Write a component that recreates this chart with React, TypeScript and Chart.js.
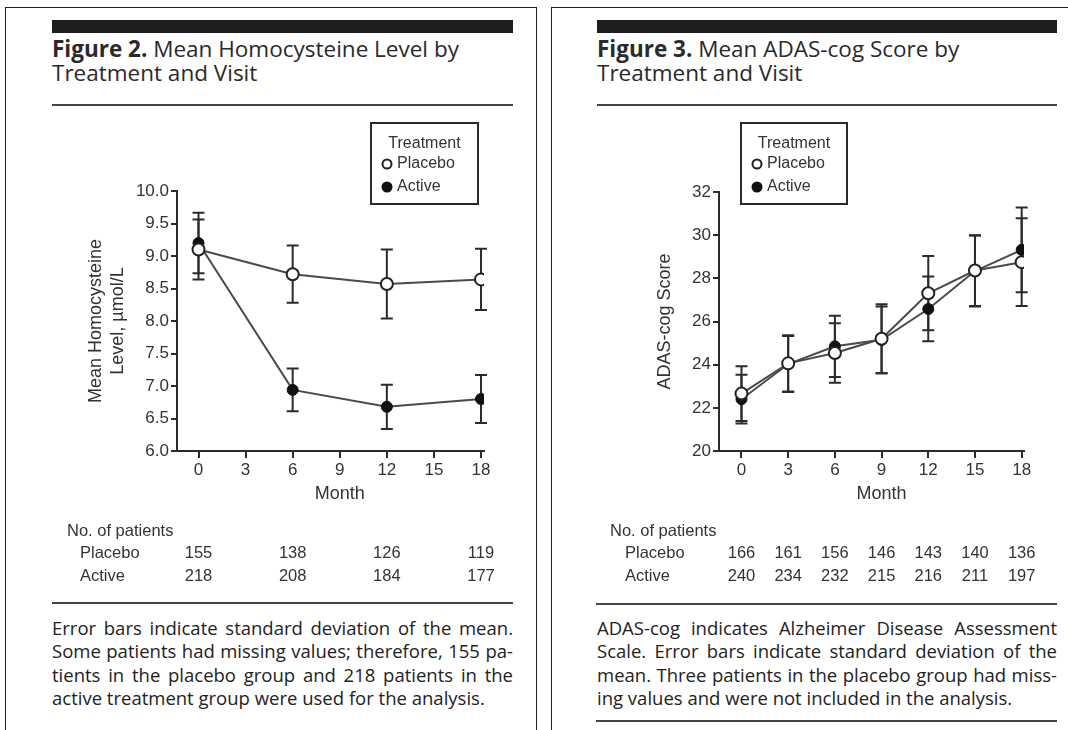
import React, { useEffect, useRef } from "react";
import { Chart, registerables } from "chart.js";
Chart.register(...registerables);

const FONT = '"Liberation Sans", Arial, sans-serif';
const PROSE = '"Open Sans", "Noto Sans", sans-serif';
const TEXT = "#333";
const AXIS = "#2b2b2b";
const LINE = "#4a4a4a";

// ---------- Figure 2: homocysteine ----------
const hcyMonths = [0, 6, 12, 18];
const hcyXTicks = [0, 3, 6, 9, 12, 15, 18];
const hcyYTicks = [6.0, 6.5, 7.0, 7.5, 8.0, 8.5, 9.0, 9.5, 10.0];
const hcyPlacebo = [9.1, 8.72, 8.57, 8.64];
const hcyPlaceboSD = [0.46, 0.44, 0.53, 0.47];
const hcyActive = [9.2, 6.94, 6.68, 6.8];
const hcyActiveSD = [0.465, 0.33, 0.34, 0.37];
const hcyPatientsPlacebo = [155, 138, 126, 119];
const hcyPatientsActive = [218, 208, 184, 177];

// ---------- Figure 3: ADAS-cog ----------
const adasMonths = [0, 3, 6, 9, 12, 15, 18];
const adasXTicks = [0, 3, 6, 9, 12, 15, 18];
const adasYTicks = [20, 22, 24, 26, 28, 30, 32];
const adasPlacebo = [22.66, 24.06, 24.54, 25.2, 27.31, 28.36, 28.75];
const adasPlaceboSD = [1.27, 1.3, 1.38, 1.6, 1.72, 1.64, 2.03];
const adasActive = [22.4, 24.03, 24.85, 25.15, 26.58, 28.34, 29.32];
const adasActiveSD = [1.13, 1.3, 1.42, 1.55, 1.5, 1.64, 1.96];
const adasPatientsPlacebo = [166, 161, 156, 146, 143, 140, 136];
const adasPatientsActive = [240, 234, 232, 215, 216, 211, 197];

const errorBarsPlugin = {
  id: "errorBars",
  beforeDatasetsDraw(chart: any, _args: any, opts: any) {
    const { ctx } = chart;
    const xs = chart.scales.x;
    const ys = chart.scales.y;
    ctx.save();
    ctx.strokeStyle = AXIS;
    ctx.lineWidth = 2;
    chart.data.datasets.forEach((ds: any, i: number) => {
      const sd = opts.sd[i];
      ds.data.forEach((p: any, j: number) => {
        const px = xs.getPixelForValue(p.x);
        const top = ys.getPixelForValue(p.y + sd[j]);
        const bot = ys.getPixelForValue(p.y - sd[j]);
        ctx.beginPath();
        ctx.moveTo(px, top);
        ctx.lineTo(px, bot);
        ctx.moveTo(px - 6, top);
        ctx.lineTo(px + 6, top);
        ctx.moveTo(px - 6, bot);
        ctx.lineTo(px + 6, bot);
        ctx.stroke();
      });
    });
    ctx.restore();
  },
};

const boxLegendPlugin = {
  id: "boxLegend",
  afterDraw(chart: any, _args: any, opts: any) {
    const { ctx } = chart;
    const { x, y, w, h } = opts.box;
    ctx.save();
    ctx.strokeStyle = AXIS;
    ctx.lineWidth = 2;
    ctx.strokeRect(x, y, w, h);
    ctx.font = `16px ${FONT}`;
    ctx.fillStyle = TEXT;
    ctx.textBaseline = "middle";
    ctx.textAlign = "center";
    ctx.fillText(opts.title, x + w / 2, y + 21);
    chart.data.datasets.forEach((ds: any, i: number) => {
      const cy = y + 41 + i * 23;
      ctx.beginPath();
      ctx.arc(x + 16, cy, 4.5, 0, Math.PI * 2);
      ctx.fillStyle = ds.pointBackgroundColor;
      ctx.fill();
      ctx.lineWidth = 2;
      ctx.strokeStyle = ds.pointBorderColor;
      ctx.stroke();
      ctx.fillStyle = TEXT;
      ctx.textAlign = "left";
      ctx.fillText(ds.label, x + 26, cy);
    });
    ctx.restore();
  },
};

const tablePlugin = {
  id: "patientTable",
  afterDraw(chart: any, _args: any, opts: any) {
    const { ctx } = chart;
    const xs = chart.scales.x;
    ctx.save();
    ctx.fillStyle = TEXT;
    ctx.font = `18px ${FONT}`;
    ctx.textAlign = "center";
    ctx.textBaseline = "middle";
    const mid = (xs.getPixelForValue(0) + xs.getPixelForValue(18)) / 2;
    ctx.fillText("Month", mid, opts.monthY);
    ctx.font = `16.5px ${FONT}`;
    ctx.textBaseline = "alphabetic";
    ctx.textAlign = "left";
    ctx.fillText("No. of patients", opts.headX, opts.rowY[0]);
    opts.rows.forEach((row: any, r: number) => {
      ctx.textAlign = "left";
      ctx.fillText(row.label, opts.labelX, opts.rowY[r + 1]);
      ctx.textAlign = "center";
      row.values.forEach((v: number, j: number) => {
        ctx.fillText(String(v), xs.getPixelForValue(opts.months[j]), opts.rowY[r + 1]);
      });
    });
    ctx.restore();
  },
};

function buildConfig(p: any): any {
  const toPts = (vals: number[]) => vals.map((v, i) => ({ x: p.months[i], y: v }));
  return {
    type: "line",
    data: {
      datasets: [
        {
          label: "Placebo",
          data: toPts(p.placebo),
          borderColor: LINE,
          borderWidth: 2,
          pointRadius: 6,
          pointBackgroundColor: "#ffffff",
          pointBorderColor: "#222",
          pointBorderWidth: 2,
          tension: 0,
        },
        {
          label: "Active",
          data: toPts(p.active),
          borderColor: LINE,
          borderWidth: 2,
          pointRadius: 5.5,
          pointBackgroundColor: "#111",
          pointBorderColor: "#111",
          pointBorderWidth: 1,
          tension: 0,
        },
      ],
    },
    options: {
      animation: false,
      responsive: false,
      devicePixelRatio: 1,
      events: [],
      layout: { padding: { top: p.padTop, right: p.padRight, left: 0, bottom: 0 } },
      plugins: {
        legend: { display: false },
        tooltip: { enabled: false },
        errorBars: { sd: [p.placeboSD, p.activeSD] },
        boxLegend: { box: p.legendBox, title: "Treatment" },
        patientTable: {
          months: p.months,
          monthY: 382,
          headX: p.headX,
          labelX: p.labelX,
          rowY: [424, 446, 469],
          rows: [
            { label: "Placebo", values: p.patientsPlacebo },
            { label: "Active", values: p.patientsActive },
          ],
        },
      },
      scales: {
        x: {
          type: "linear",
          min: p.xMin,
          max: p.xMax,
          afterBuildTicks: (s: any) => {
            s.ticks = p.xTicks.map((v: number) => ({ value: v }));
          },
          afterFit: (s: any) => {
            s.height = p.xHeight;
          },
          grid: { display: true, drawOnChartArea: false, drawTicks: true, tickLength: 7, color: AXIS, lineWidth: 2 },
          border: { display: true, color: AXIS, width: 2 },
          ticks: { font: { size: 17, family: FONT }, color: TEXT, padding: 2, maxRotation: 0, autoSkip: false },
        },
        y: {
          type: "linear",
          min: p.yMin,
          max: p.yMax,
          afterBuildTicks: (s: any) => {
            s.ticks = p.yTicks.map((v: number) => ({ value: v }));
          },
          afterFit: (s: any) => {
            s.width = p.yWidth;
          },
          grid: { display: true, drawOnChartArea: false, drawTicks: true, tickLength: 6, color: AXIS, lineWidth: 2 },
          border: { display: true, color: AXIS, width: 2 },
          ticks: {
            font: { size: 17, family: FONT },
            color: TEXT,
            padding: 2,
            autoSkip: false,
            callback: (v: any) => Number(v).toFixed(p.yDecimals),
          },
          title: {
            display: true,
            text: p.yTitle,
            color: TEXT,
            font: { size: 18, family: FONT, lineHeight: 1.25 },
            padding: { top: p.yTitlePad, bottom: 0 },
          },
        },
      },
    },
    plugins: [errorBarsPlugin, boxLegendPlugin, tablePlugin],
  };
}

function ChartCanvas({ left, top, width, height, params }: any) {
  const ref = useRef<HTMLCanvasElement | null>(null);
  useEffect(() => {
    if (!ref.current) return;
    const chart = new Chart(ref.current, buildConfig(params));
    return () => chart.destroy();
  }, []);
  return (
    <canvas
      ref={ref}
      width={width}
      height={height}
      style={{ position: "absolute", left, top, width, height }}
    />
  );
}

function Caption({ left, top, width, lines }: any) {
  return (
    <div style={{ position: "absolute", left, top, width, fontFamily: PROSE, fontSize: 18.5, lineHeight: "23.4px", color: "#222" }}>
      {lines.map((l: string, i: number) => (
        <div
          key={i}
          style={{
            textAlign: i === lines.length - 1 ? "left" : "justify",
            textAlignLast: i === lines.length - 1 ? "left" : "justify",
            whiteSpace: "nowrap",
          } as any}
        >
          {l}
        </div>
      ))}
    </div>
  );
}

function Rule({ left, top, width, height, color }: any) {
  return <div style={{ position: "absolute", left, top, width, height, background: color }} />;
}

function Title({ left, top, bold, rest, line2 }: any) {
  return (
    <div style={{ position: "absolute", left, top, fontFamily: PROSE, fontSize: 22.5, lineHeight: "24px", color: "#2a2a2a", whiteSpace: "nowrap" }}>
      <span style={{ fontWeight: 700 }}>{bold}</span> {rest}
      <br />
      {line2}
    </div>
  );
}

const hcyParams = {
  months: hcyMonths,
  xTicks: hcyXTicks,
  yTicks: hcyYTicks,
  placebo: hcyPlacebo,
  placeboSD: hcyPlaceboSD,
  active: hcyActive,
  activeSD: hcyActiveSD,
  patientsPlacebo: hcyPatientsPlacebo,
  patientsActive: hcyPatientsActive,
  yMin: 6,
  yMax: 10,
  yDecimals: 1,
  yTitle: ["Mean Homocysteine", "Level, µmol/L"],
  yTitlePad: 44.75,
  yWidth: 137,
  xHeight: 151,
  xMin: -1.37,
  xMax: 18.19,
  padTop: 79,
  padRight: 36,
  legendBox: { x: 331, y: 11, w: 107, h: 81 },
  headX: 27,
  labelX: 40,
};

const adasParams = {
  months: adasMonths,
  xTicks: adasXTicks,
  yTicks: adasYTicks,
  placebo: adasPlacebo,
  placeboSD: adasPlaceboSD,
  active: adasActive,
  activeSD: adasActiveSD,
  patientsPlacebo: adasPatientsPlacebo,
  patientsActive: adasPatientsActive,
  yMin: 20,
  yMax: 32,
  yDecimals: 0,
  yTitle: "ADAS-cog Score",
  yTitlePad: 68.75,
  yWidth: 134,
  xHeight: 151,
  xMin: -1.445,
  xMax: 18.15,
  padTop: 80,
  padRight: 44,
  legendBox: { x: 156, y: 11, w: 106, h: 81 },
  headX: 25,
  labelX: 40,
};

export default function App() {
  return (
    <div style={{ position: "fixed", left: 0, top: 0, width: 1068, height: 730, overflow: "hidden", background: "#fff" }}>
      <div style={{ position: "absolute", left: 5, top: 7, width: 532, height: 800, border: "1.5px solid #222", boxSizing: "border-box" }} />
      <div style={{ position: "absolute", left: 551, top: 7, width: 600, height: 800, border: "1.5px solid #222", boxSizing: "border-box" }} />

      <Rule left={52} top={20} width={461} height={13} color="#1e1e1e" />
      <Rule left={597} top={20} width={460} height={13} color="#1e1e1e" />

      <Title left={52} top={37} bold="Figure 2." rest="Mean Homocysteine Level by" line2="Treatment and Visit" />
      <Title left={597} top={37} bold="Figure 3." rest="Mean ADAS-cog Score by" line2="Treatment and Visit" />

      <Rule left={52} top={104} width={461} height={2} color="#444" />
      <Rule left={597} top={104} width={460} height={2} color="#444" />

      <ChartCanvas left={40} top={112} width={480} height={490} params={hcyParams} />
      <ChartCanvas left={585} top={112} width={483} height={490} params={adasParams} />

      <Rule left={52} top={602} width={461} height={2} color="#444" />
      <Rule left={596} top={603} width={461} height={2} color="#444" />

      <Caption
        left={52}
        top={616}
        width={461}
        lines={[
          "Error bars indicate standard deviation of the mean.",
          "Some patients had missing values; therefore, 155 pa-",
          "tients in the placebo group and 218 patients in the",
          "active treatment group were used for the analysis.",
        ]}
      />
      <Caption
        left={597}
        top={616}
        width={460}
        lines={[
          "ADAS-cog indicates Alzheimer Disease Assessment",
          "Scale. Error bars indicate standard deviation of the",
          "mean. Three patients in the placebo group had miss-",
          "ing values and were not included in the analysis.",
        ]}
      />
      <Rule left={596} top={720} width={461} height={2} color="#444" />
    </div>
  );
}
